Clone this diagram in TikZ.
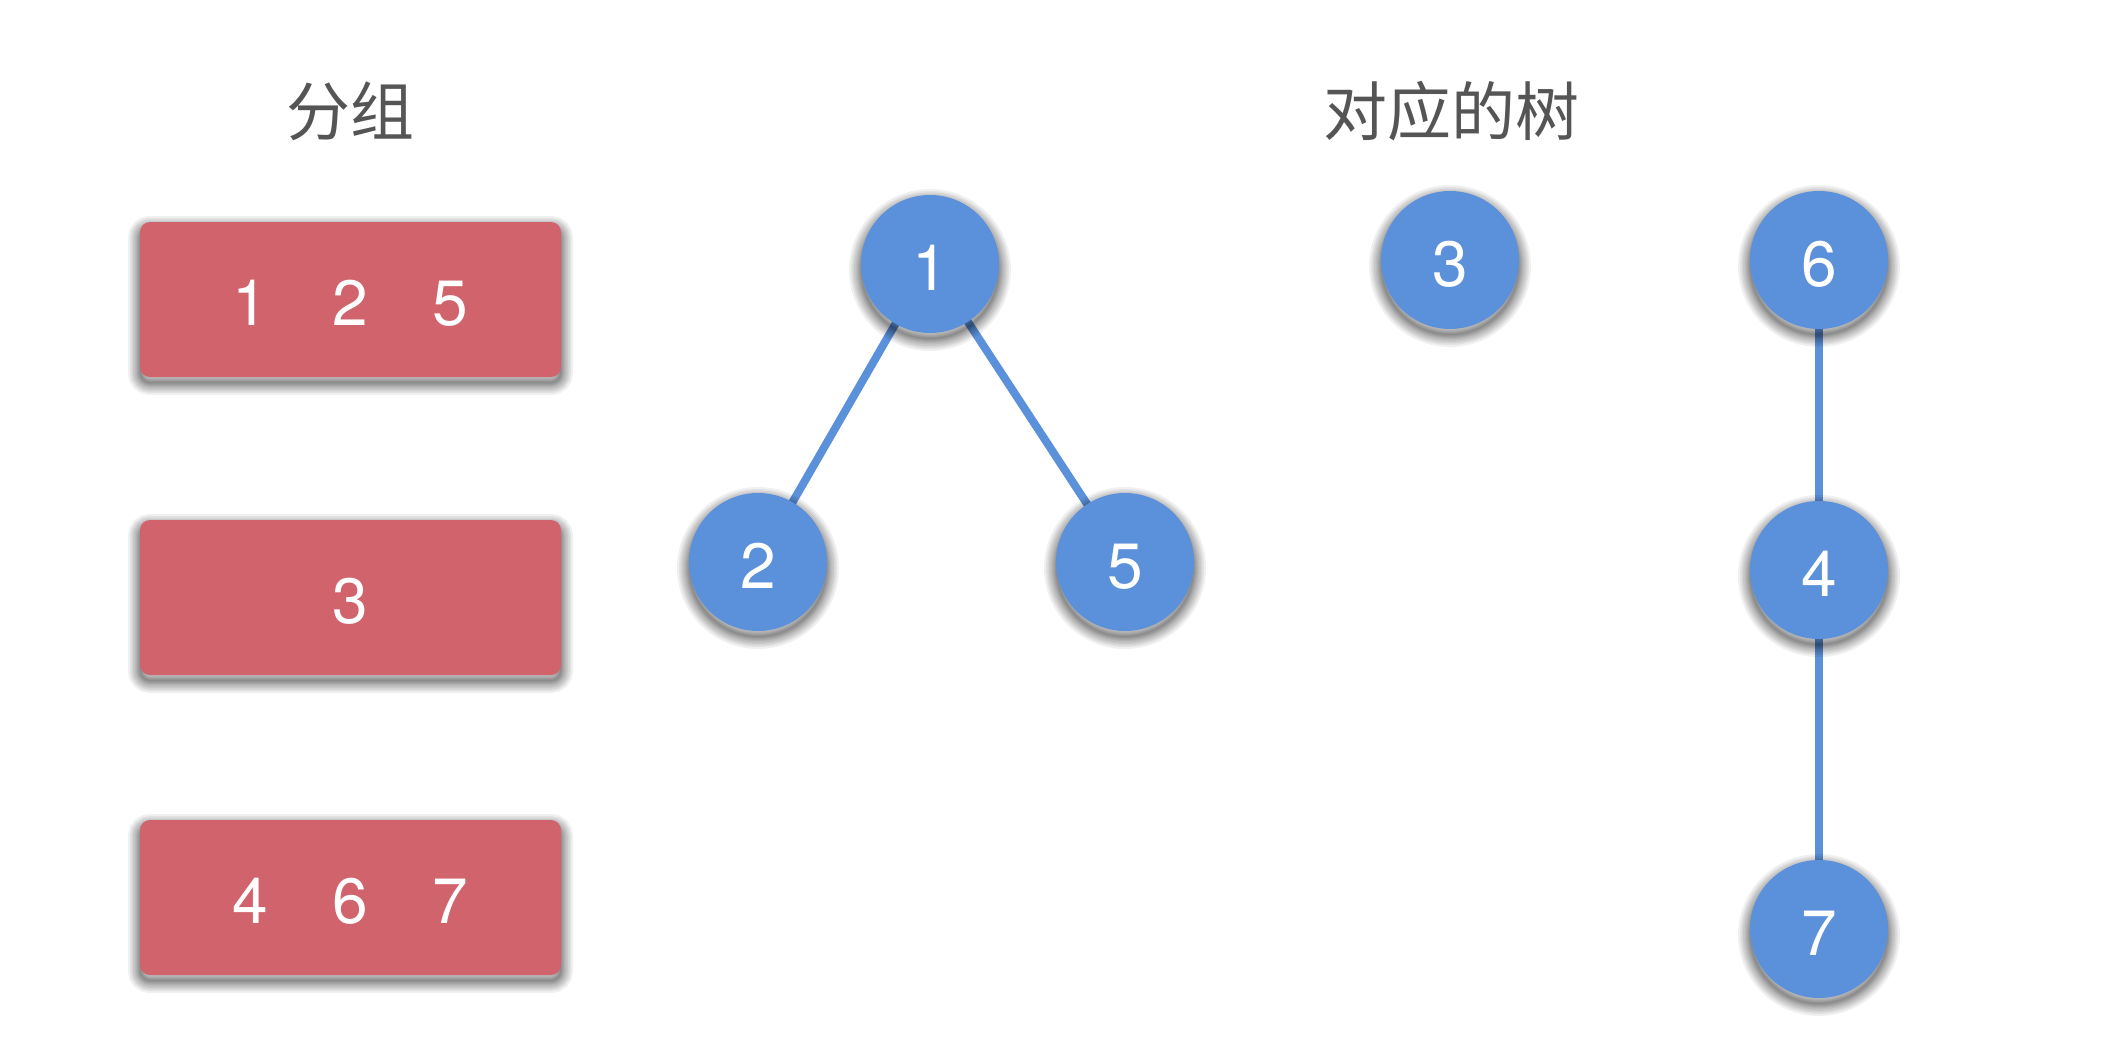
\documentclass[tikz,border=0pt]{standalone}
\usepackage{fontspec}
\setmainfont{TeX Gyre Heros}
\newfontfamily\cjk{Noto Sans CJK SC}
\usetikzlibrary{backgrounds}
\definecolor{boxred}{HTML}{D1636C}
\definecolor{nodeblue}{HTML}{5B90DA}
\definecolor{titlegray}{HTML}{555555}
\begin{document}
\begin{tikzpicture}[x=0.5pt,y=-0.5pt,
  shadowlayer/.style={preaction={draw=black, draw opacity=0.06, line width=#1, transform canvas={yshift=-3pt}}},
  softshadow/.style={
    preaction={fill=black, fill opacity=0.06, transform canvas={yshift=-3pt}},
    shadowlayer=1pt, shadowlayer=2pt, shadowlayer=3pt, shadowlayer=4pt,
    shadowlayer=5.5pt, shadowlayer=7pt, shadowlayer=8.5pt, shadowlayer=10pt, shadowlayer=12pt},
  digits/.style={text=white, font=\fontsize{32}{38}\selectfont, text height=26pt, text depth=0pt},
  groupbox/.style={fill=boxred, rounded corners=5pt, minimum width=210.5pt, minimum height=77.5pt, inner sep=0pt, digits, softshadow},
  treenode/.style={circle, fill=nodeblue, minimum size=69pt, inner sep=0pt, digits, softshadow},
  treeedge/.style={draw=nodeblue, line width=4pt},
  titletext/.style={text=titlegray, font=\cjk\fontsize{32}{38}\selectfont, inner sep=0pt}]
\useasboundingbox (0,0) rectangle (2118,1060);
% titles
\node[titletext] (t1) at (350,111) {分组};
\node[titletext] (t2) at (1451,111) {对应的树};
% group boxes
\node[groupbox] (g1) at (350.5,299.5) {\makebox[50pt]{1}\makebox[50pt]{2}\makebox[50pt]{5}};
\node[groupbox] (g2) at (350.5,597.5) {3};
\node[groupbox] (g3) at (350.5,897.5) {\makebox[50pt]{4}\makebox[50pt]{6}\makebox[50pt]{7}};
% tree nodes
\node[treenode] (n1) at (930,264) {1};
\node[treenode] (n2) at (758,562) {2};
\node[treenode] (n5) at (1125,562) {5};
\node[treenode] (n3) at (1450,260) {3};
\node[treenode] (n6) at (1819,260) {6};
\node[treenode] (n4) at (1819,570) {4};
\node[treenode] (n7) at (1819,929) {7};
% edges
\begin{scope}[on background layer]
\draw[treeedge] (n1.center) -- (n2.center);
\draw[treeedge] (n1.center) -- (n5.center);
\draw[treeedge] (n6.center) -- (n4.center);
\draw[treeedge] (n4.center) -- (n7.center);
\end{scope}
\end{tikzpicture}
\end{document}
